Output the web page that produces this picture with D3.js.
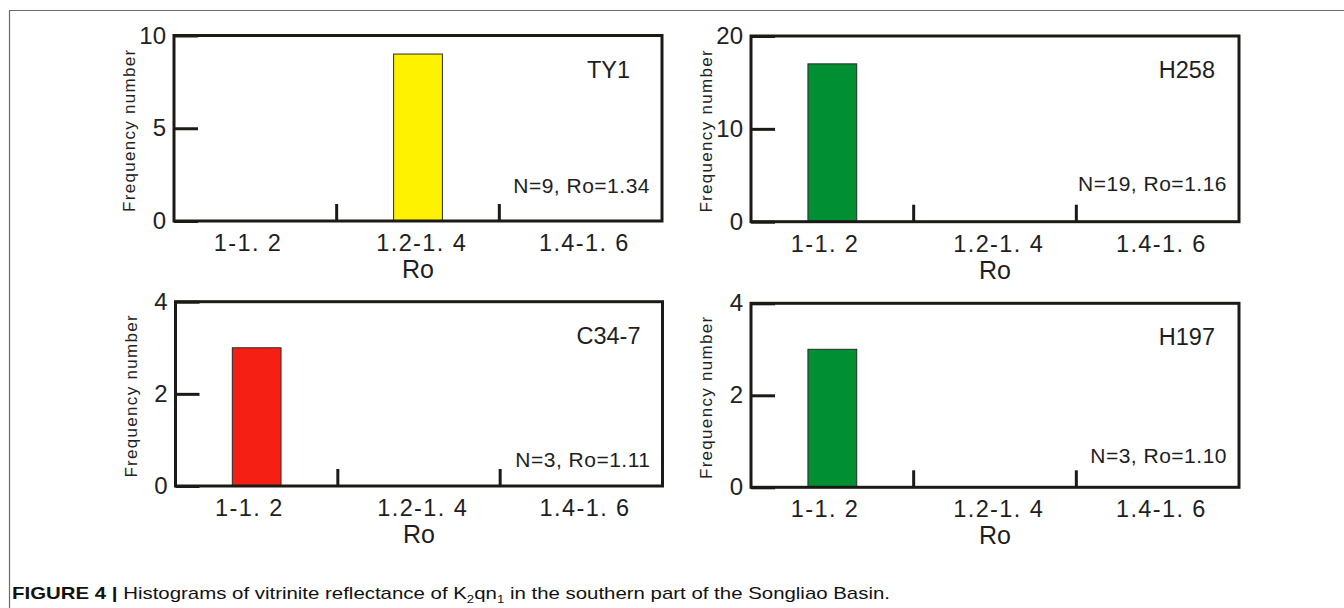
<!DOCTYPE html>
<html>
<head>
<meta charset="utf-8">
<script src="https://cdn.jsdelivr.net/npm/d3@7"></script>
<style>
  body { margin: 0; background: #fff; }
  svg { display: block; font-family: "Liberation Sans", Arial, sans-serif; }
</style>
</head>
<body>
<div id="figure"></div>
<script>
// Ro classes on the x axis
const categories = ['1-1. 2', '1.2-1. 4', '1.4-1. 6'];

// frequency counts
const ty1Counts = [0, 9, 0];
const h258Counts = [17, 0, 0];
const c347Counts = [3, 0, 0];
const h197Counts = [3, 0, 0];

const wellNames = ['TY1', 'H258', 'C34-7', 'H197'];
const wellNotes = ['N=9, Ro=1.34', 'N=19, Ro=1.16', 'N=3, Ro=1.11', 'N=3, Ro=1.10'];
const yMax = [10, 20, 4, 4];
const yTicks = [[0, 5, 10], [0, 10, 20], [0, 2, 4], [0, 2, 4]];

const counts = [ty1Counts, h258Counts, c347Counts, h197Counts];
const barColors = ['#fff200', '#009033', '#f61f14', '#009033'];

// panel frames (plot area) in page pixels
const frames = [
    { x: 174, y: 35.5, w: 488, h: 185.5, nameDx: 32, noteDy: 28 },
    { x: 751, y: 36, w: 488, h: 185.7, nameDx: 24, noteDy: 31 },
    { x: 175.5, y: 301.7, w: 487, h: 184.3, nameDx: 22, noteDy: 19 },
    { x: 751, y: 303.3, w: 488, h: 184, nameDx: 24, noteDy: 24 }
];
// small horizontal nudges of the class labels, as set in the original
const labelShift = [-8, 3, 3];

const svg = d3.select('#figure').append('svg')
    .attr('width', 1344).attr('height', 608);

// grey figure frame
svg.append('path')
    .attr('d', 'M9.5,608 V10.5 H1344')
    .attr('fill', 'none')
    .attr('stroke', '#6a6a6a')
    .attr('stroke-width', 1.2);

const ink = '#1c1a17';

frames.forEach((f, i) => {
    const g = svg.append('g').attr('transform', `translate(${f.x},${f.y})`);

    const x = d3.scaleBand(categories, [0, f.w]);
    const xBar = d3.scaleBand(categories, [0, f.w]).paddingInner(0.7).paddingOuter(0.35);
    const y = d3.scaleLinear([0, yMax[i]], [f.h, 0]);

    // bars
    g.selectAll('rect.bar')
        .data(categories.map((c, k) => [c, counts[i][k]]).filter(d => d[1] > 0))
        .join('rect')
        .classed('bar', true)
        .attr('x', d => xBar(d[0]))
        .attr('width', xBar.bandwidth())
        .attr('y', d => y(d[1]))
        .attr('height', d => y(0) - y(d[1]))
        .attr('fill', barColors[i])
        .attr('stroke', '#2a2a2a')
        .attr('stroke-width', 1);

    // y axis: inward ticks, labels outside
    const axisY = g.append('g')
        .call(d3.axisLeft(y).tickValues(yTicks[i]).tickFormat(d3.format('d'))
            .tickSizeInner(-24).tickSizeOuter(0).tickPadding(8));
    axisY.select('.domain').remove();
    axisY.selectAll('line').attr('stroke', ink).attr('stroke-width', 3);
    axisY.selectAll('text')
        .attr('fill', '#222')
        .style('font-size', '24px')
        .style('font-family', '"Liberation Sans", Arial, sans-serif');

    // x ticks at class boundaries
    g.selectAll('line.xtick')
        .data(categories.slice(1))
        .join('line')
        .classed('xtick', true)
        .attr('x1', d => x(d)).attr('x2', d => x(d))
        .attr('y1', f.h).attr('y2', f.h - 17)
        .attr('stroke', ink).attr('stroke-width', 3);

    // class labels
    g.selectAll('text.cat')
        .data(categories)
        .join('text')
        .classed('cat', true)
        .attr('x', (d, k) => x(d) + x.bandwidth() / 2 + 0.7 + labelShift[k])
        .attr('y', f.h + 30)
        .attr('text-anchor', 'middle')
        .style('font-size', '23.5px')
        .style('letter-spacing', '1.4px')
        .attr('fill', '#1e1e1e')
        .text(d => d);

    g.append('text')
        .attr('x', f.w / 2)
        .attr('y', f.h + 57)
        .attr('text-anchor', 'middle')
        .style('font-size', '25px')
        .attr('fill', '#1e1e1e')
        .text('Ro');

    g.append('text')
        .attr('transform', `translate(-39,${f.h / 2 + 2}) rotate(-90)`)
        .attr('text-anchor', 'middle')
        .style('font-size', '17px')
        .style('letter-spacing', '1.3px')
        .attr('fill', '#222')
        .text('Frequency number');

    g.append('text')
        .attr('x', f.w - f.nameDx)
        .attr('y', 42)
        .attr('text-anchor', 'end')
        .style('font-size', '23.5px')
        .attr('fill', '#1e1e1e')
        .text(wellNames[i]);

    g.append('text')
        .attr('x', f.w - 12)
        .attr('y', f.h - f.noteDy)
        .attr('text-anchor', 'end')
        .style('font-size', '21px')
        .style('letter-spacing', '0.5px')
        .attr('fill', '#1e1e1e')
        .text(wellNotes[i]);

    // plot border
    g.append('rect')
        .attr('width', f.w).attr('height', f.h)
        .attr('fill', 'none')
        .attr('stroke', ink)
        .attr('stroke-width', 3);
});

// caption
const cap = svg.append('text')
    .attr('x', 12)
    .attr('y', 599)
    .attr('textLength', 878)
    .attr('lengthAdjust', 'spacingAndGlyphs')
    .style('font-family', '"Liberation Sans Narrow", "Liberation Sans", Arial, sans-serif')
    .style('font-size', '17px')
    .attr('fill', '#111');
cap.append('tspan').style('font-weight', 'bold').text('FIGURE 4 | ');
cap.append('tspan').text('Histograms of vitrinite reflectance of K');
cap.append('tspan').attr('dy', 4).style('font-size', '11px').text('2');
cap.append('tspan').attr('dy', -4).text('qn');
cap.append('tspan').attr('dy', 4).style('font-size', '11px').text('1');
cap.append('tspan').attr('dy', -4).text(' in the southern part of the Songliao Basin.');
</script>
</body>
</html>
